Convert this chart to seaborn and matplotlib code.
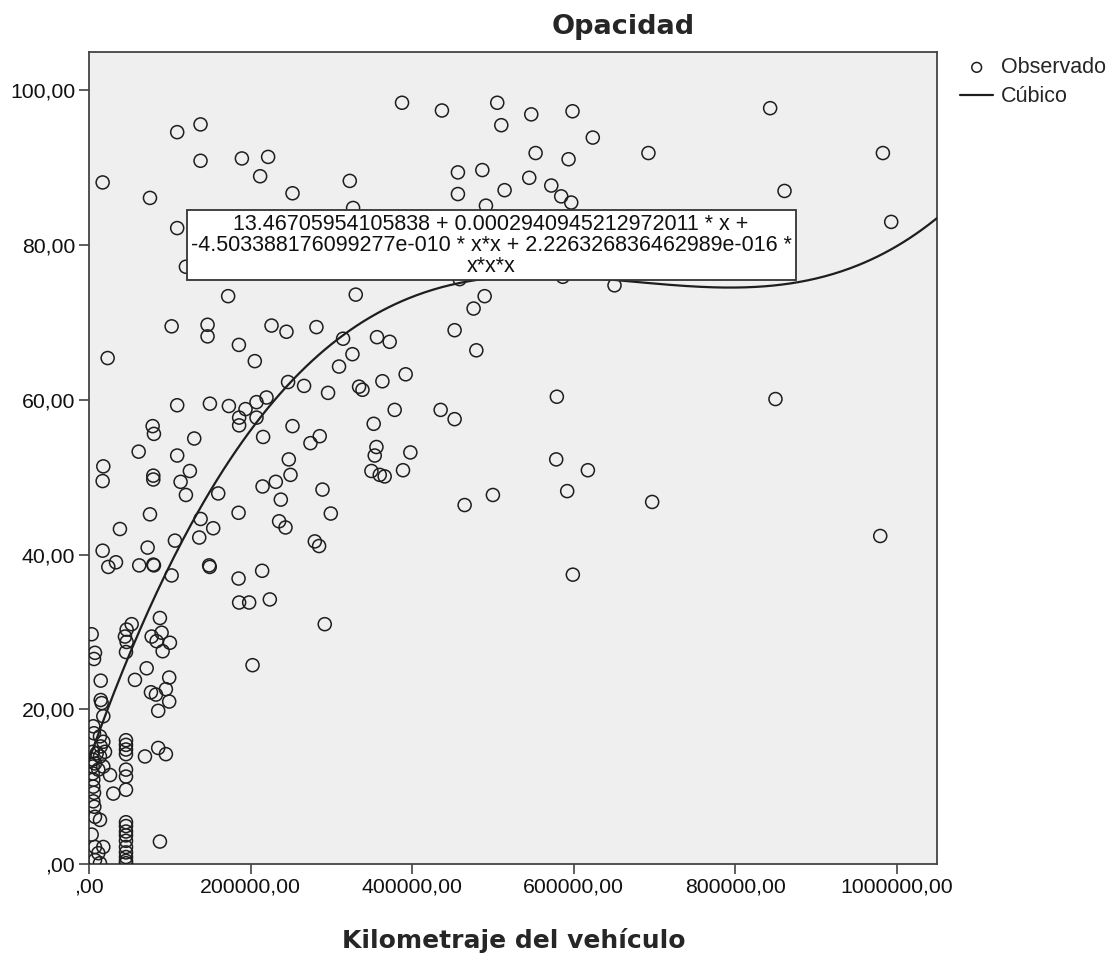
import numpy as np
import pandas as pd
import matplotlib
matplotlib.use('Agg')
import matplotlib.pyplot as plt
import seaborn as sns
from matplotlib.patches import Rectangle

# datos: kilometraje del vehiculo vs opacidad
km = [16900, 109200, 138100, 138100, 189300, 221800, 211900, 75500, 252000, 322900,
      327000, 109200, 120000, 172300, 330300, 102300, 146800, 146800, 226000, 244500,
      281600,
      387600, 437000, 505500, 510500, 547600, 598700, 623800, 692700, 553000, 593800,
      456800, 487000, 456800, 514600, 545100, 572400, 584700, 597100, 491500, 458900,
      586700, 650700, 489900, 476200, 452700,
      843400, 983000, 861200, 993300, 850000, 979700, 697300,
      479600, 356600, 372300, 392100, 363300, 579300, 378500, 435400, 452700, 352500,
      355900, 353800, 397900, 388800, 349700, 360000, 366100, 578500, 617700, 592100,
      500100, 465100, 599100,
      23100, 185600, 205300, 314600, 326200, 309600, 246500, 266300, 296000, 334400,
      338600, 109200, 149700, 173200, 193800, 207400, 219800, 185900, 185900, 207400,
      78800, 80400, 130300, 215600, 252000, 285700, 274200, 61500, 109200, 124900,
      17700, 16900, 79600, 79600, 113400, 120000, 247400, 249500, 231300, 214900,
      160000, 237500, 289100, 75500, 185200, 299400, 38300, 138200, 153800, 235400,
      243300, 136500, 106400, 279600, 284900, 16900, 23900, 33400, 62200, 72600,
      79600, 80400, 148800, 149500, 102300, 185200, 214400, 185900, 198300, 223900,
      291900, 202500, 87800, 52800, 46600, 44500, 46600, 45800, 77600, 89900,
      83700, 100200, 91200, 56900, 71400, 99300, 76700, 82900, 95200, 99300,
      85700, 45800, 45800, 45800, 45800, 69300, 85700, 95200, 45800, 45800,
      45800, 45800, 45800, 45800, 45800, 45800, 45800, 45800, 45800, 45800,
      45800, 87800,
      3300, 7400, 6200, 14500, 14500, 15700, 17700, 5300, 6200, 13600,
      17700, 14500, 19800, 9500, 13600, 7400, 17700, 11500, 26000, 5300,
      5300, 6200, 30100, 5300, 6600, 7400, 13600, 3300, 7400, 17700,
      11500, 7400, 13600, 4600, 4600, 4600, 4600]

opacidad = [88.1, 94.6, 95.6, 90.9, 91.2, 91.4, 88.9, 86.1, 86.7, 88.3,
            84.8, 82.2, 77.2, 73.4, 73.6, 69.5, 69.7, 68.2, 69.6, 68.8,
            69.4,
            98.4, 97.4, 98.4, 95.5, 96.9, 97.3, 93.9, 91.9, 91.9, 91.1,
            89.4, 89.7, 86.6, 87.1, 88.7, 87.7, 86.3, 85.5, 85.1, 75.6,
            75.9, 74.8, 73.4, 71.8, 69.0,
            97.7, 91.9, 87.0, 83.0, 60.1, 42.4, 46.8,
            66.4, 68.1, 67.5, 63.3, 62.4, 60.4, 58.7, 58.7, 57.5, 56.9,
            53.9, 52.8, 53.2, 50.9, 50.8, 50.3, 50.1, 52.3, 50.9, 48.2,
            47.7, 46.4, 37.4,
            65.4, 67.1, 65.0, 67.9, 65.9, 64.3, 62.3, 61.8, 60.9, 61.7,
            61.3, 59.3, 59.5, 59.2, 58.8, 59.7, 60.3, 57.7, 56.7, 57.7,
            56.6, 55.6, 55.0, 55.2, 56.6, 55.3, 54.4, 53.3, 52.8, 50.8,
            51.4, 49.5, 50.2, 49.7, 49.4, 47.7, 52.3, 50.3, 49.4, 48.8,
            47.9, 47.1, 48.4, 45.2, 45.4, 45.3, 43.3, 44.6, 43.4, 44.3,
            43.5, 42.2, 41.8, 41.7, 41.1, 40.5, 38.4, 39.0, 38.6, 40.9,
            38.7, 38.6, 38.6, 38.4, 37.3, 36.9, 37.9, 33.8, 33.8, 34.2,
            31.0, 25.7, 31.8, 31.0, 30.3, 29.4, 28.7, 27.4, 29.4, 29.9,
            28.8, 28.6, 27.5, 23.8, 25.3, 24.1, 22.2, 21.9, 22.6, 21.0,
            19.8, 16.0, 15.4, 14.8, 14.2, 13.9, 15.0, 14.2, 12.2, 11.3,
            9.6, 5.4, 4.9, 4.2, 3.7, 3.0, 2.2, 1.5, 0.9, 0.4,
            0.1, 2.9,
            29.7, 27.3, 26.5, 23.7, 21.2, 20.8, 19.1, 17.8, 16.9, 16.5,
            15.8, 15.2, 14.5, 14.3, 13.9, 13.0, 12.6, 12.2, 11.5, 10.9,
            10.0, 9.2, 9.1, 8.1, 7.4, 6.1, 5.7, 3.8, 2.2, 2.2,
            1.4, 0.5, 0.1, 14.5, 13.5, 12.6, 11.7]

# coeficientes del modelo cubico (b0, b1, b2, b3)
coef = [13.46705954105838, 0.0002940945212972011, -4.503388176099277e-010, 2.226326836462989e-016]

x_ticks = [0, 200000, 400000, 600000, 800000, 1000000]
y_ticks = [0, 20, 40, 60, 80, 100]

def fmt(v):
    s = f'{v:.2f}'.replace('.', ',')
    return s[1:] if s.startswith('0,') else s

sns.set_style('white')
plt.rcParams['font.family'] = ['Liberation Sans', 'DejaVu Sans']

df = pd.DataFrame({'Kilometraje': km, 'Opacidad': opacidad})

W, H = 1118, 955
fig = plt.figure(figsize=(W / 100, H / 100), dpi=100)
ax = fig.add_axes([89 / W, 1 - 864 / H, 848 / W, 812.3 / H])
ax.set_facecolor('#efefef')

sns.scatterplot(data=df, x='Kilometraje', y='Opacidad', ax=ax, marker='o', s=88,
                facecolors='none', edgecolor='#1e1e1e', linewidth=1.1,
                label='Observado', zorder=3)

xs = np.linspace(0, 1050000, 400)
curva = pd.DataFrame({'x': xs, 'y': np.polyval(coef[::-1], xs)})
sns.lineplot(data=curva, x='x', y='y', ax=ax, color='#1e1e1e', linewidth=1.6,
             label='Cúbico', zorder=4)

ax.set_xlim(0, 1050000)
ax.set_ylim(0, 105)
ax.set_xticks(x_ticks)
ax.set_xticklabels([fmt(v) for v in x_ticks])
ax.set_yticks(y_ticks)
ax.set_yticklabels([fmt(v) for v in y_ticks])
ax.tick_params(direction='out', length=7, width=1.1, color='#333333',
               labelsize=15.3, pad=3, bottom=True, left=True, labelcolor='#111111')
for sp in ax.spines.values():
    sp.set_color('#444444')
    sp.set_linewidth(1.3)
ax.set_xlabel('')
ax.set_ylabel('')

# cuadro con la ecuacion
ax.add_patch(Rectangle((0.1156, 0.719), 0.718, 0.0862, transform=ax.transAxes,
                       facecolor='white', edgecolor='#333333', linewidth=1.3, zorder=5))
eq = ('13.46705954105838 + 0.0002940945212972011 * x +\n'
      '-4.503388176099277e-010 * x*x + 2.226326836462989e-016 *\n'
      'x*x*x')
ax.text(0.474, 0.761, eq, transform=ax.transAxes, ha='center', va='center',
        multialignment='center', fontsize=15.5, linespacing=1.0, color='#111111', zorder=6)

handles, labels = ax.get_legend_handles_labels()
if ax.get_legend() is not None:
    ax.get_legend().remove()
fig.legend(handles, labels, loc='upper left', bbox_to_anchor=(960 / W, 1 - 57 / H),
           frameon=False, fontsize=15.5, handlelength=1.55, handletextpad=0.35,
           labelspacing=0.38, borderaxespad=0, borderpad=0, markerscale=0.75)

fig.text(623 / W, 1 - 27 / H, 'Opacidad', ha='center', va='center', fontsize=19.5,
         fontweight='bold', family='DejaVu Sans')
fig.text(514 / W, 1 - 940 / H, 'Kilometraje del vehículo', ha='center', va='center',
         fontsize=18, fontweight='bold', family='DejaVu Sans')

fig.savefig('out.png', dpi=100)
